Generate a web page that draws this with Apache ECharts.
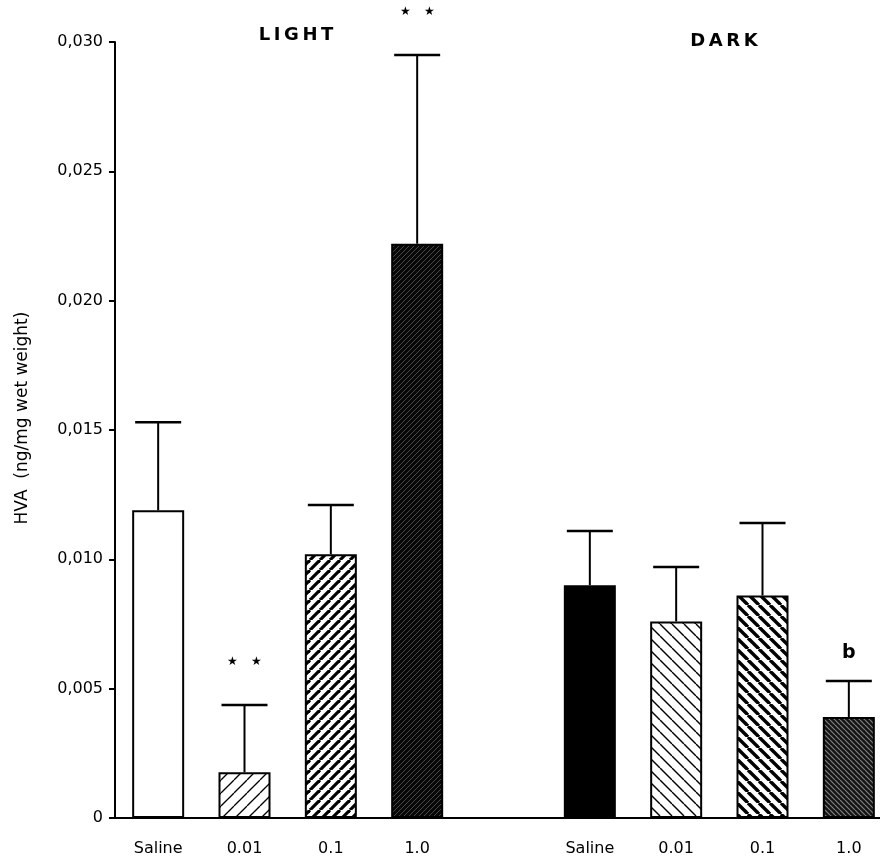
<!DOCTYPE html>
<html>
<head>
<meta charset="utf-8">
<script src="https://cdn.jsdelivr.net/npm/echarts@6/dist/echarts.min.js"></script>
<style>
    html, body { margin: 0; padding: 0; background: #fff; }
    #chart { width: 880px; height: 860px; }
</style>
</head>
<body>
<div id="chart"></div>
<script>
// slot 4 stays empty, it is the gap between LIGHT and DARK
var categories = ["Saline", "0.01", "0.1", "1.0", "", "Saline", "0.01", "0.1", "1.0"];
var means = [0.0119, 0.00177, 0.0102, 0.0222, null, 0.0090, 0.0076, 0.0086, 0.0039];
var errors = [0.0034, 0.0026, 0.0019, 0.0073, null, 0.0021, 0.0021, 0.0028, 0.0014];
var marks = ["", "**", "", "**", "", "", "", "", "b"];
var yTicks = [0, 0.005, 0.010, 0.015, 0.020, 0.025, 0.030];

var FONT = "DejaVu Sans";

// small canvas tile with diagonal lines, dir 1 = "/", -1 = "\"
function hatch(size, dir, lineW, bg, fg){
    var c = document.createElement("canvas");
    c.width = size;
    c.height = size;
    var ctx = c.getContext("2d");
    ctx.fillStyle = bg;
    ctx.fillRect(0, 0, size, size);
    ctx.strokeStyle = fg;
    ctx.lineWidth = lineW;
    for(var k = -size; k <= size; k += size){
        ctx.beginPath();
        if(dir == 1){
            ctx.moveTo(k, size);
            ctx.lineTo(k + size, 0);
        }else{
            ctx.moveTo(k, 0);
            ctx.lineTo(k + size, size);
        }
        ctx.stroke();
    }
    return {image: c, repeat: "repeat"};
}

var fills = [
    "#ffffff",
    hatch(13, 1, 1.3, "#ffffff", "#000000"),
    hatch(10, 1, 3.2, "#ffffff", "#000000"),
    hatch(5, 1, 1, "#080808", "#484848"),
    null,
    "#000000",
    hatch(12, -1, 1.4, "#ffffff", "#000000"),
    hatch(11, -1, 3.4, "#ffffff", "#000000"),
    hatch(5, -1, 1.2, "#141414", "#808080")
];

var barData = [];
var errData = [];
for(var i = 0; i < categories.length; i++){
    if(means[i] == null){
        barData.push("-");
        continue;
    }
    barData.push({
        value: means[i],
        itemStyle: {color: fills[i], borderColor: "#000", borderWidth: 2}
    });
    errData.push([i, means[i], errors[i], marks[i]]);
}

function renderError(params, api){
    var idx = api.value(0);
    var base = api.coord([idx, api.value(1)]);
    var top = api.coord([idx, api.value(1) + api.value(2)]);
    var half = 23;
    var children = [
        {type: "line", shape: {x1: base[0], y1: base[1], x2: top[0], y2: top[1]},
            style: {stroke: "#000", lineWidth: 2}},
        {type: "line", shape: {x1: top[0] - half, y1: top[1], x2: top[0] + half, y2: top[1]},
            style: {stroke: "#000", lineWidth: 2.5}}
    ];
    var mark = errData[params.dataIndex][3];
    if(mark == "**"){
        children.push({type: "text", x: top[0] - 12, y: top[1] - 43,
            style: {text: "★", fontSize: 12, fill: "#000", align: "center", verticalAlign: "middle"}});
        children.push({type: "text", x: top[0] + 12, y: top[1] - 43,
            style: {text: "★", fontSize: 12, fill: "#000", align: "center", verticalAlign: "middle"}});
    }else if(mark){
        children.push({type: "text", x: top[0], y: top[1] - 28,
            style: {text: mark, fontSize: 19, fontWeight: "bold", fontFamily: FONT, fill: "#000",
                align: "center", verticalAlign: "middle"}});
    }
    return {type: "group", children: children};
}

var myChart = echarts.init(document.getElementById("chart"), null, {renderer: "canvas"});
myChart.setOption({
    animation: false,
    backgroundColor: "#fff",
    textStyle: {fontFamily: FONT},
    title: [
        {text: "L\u2009I\u2009G\u2009H\u2009T", left: 291, top: 21, textAlign: "center",
            textStyle: {fontSize: 18, fontWeight: "bold", color: "#000", fontFamily: FONT}},
        {text: "D\u2009A\u2009R\u2009K", left: 719, top: 27, textAlign: "center",
            textStyle: {fontSize: 18, fontWeight: "bold", color: "#000", fontFamily: FONT}}
    ],
    graphic: [
        {type: "text", x: 23, y: 418, rotation: Math.PI / 2,
            style: {text: "HVA  (ng/mg wet weight)", fontSize: 17, fontFamily: FONT, fill: "#000",
                align: "center", verticalAlign: "middle"}}
    ],
    grid: {left: 115, top: 42, width: 777, height: 776, outerBoundsMode: "none"},
    xAxis: {
        type: "category",
        data: categories,
        boundaryGap: true,
        axisLine: {lineStyle: {color: "#000", width: 2}},
        axisTick: {show: false},
        axisLabel: {color: "#000", fontSize: 16, margin: 23, interval: 0}
    },
    yAxis: {
        type: "value",
        min: 0,
        max: 0.030,
        interval: 0.005,
        splitLine: {show: false},
        axisLine: {show: true, lineStyle: {color: "#000", width: 2}},
        axisTick: {show: true, length: 6, lineStyle: {color: "#000", width: 2}},
        axisLabel: {
            color: "#000",
            fontSize: 16,
            margin: 12,
            formatter: function(v){
                for(var j = 0; j < yTicks.length; j++){
                    if(Math.abs(v - yTicks[j]) < 1e-9){
                        return j == 0 ? "0" : yTicks[j].toFixed(3).replace(".", ",");
                    }
                }
                return "";
            }
        }
    },
    series: [
        {
            type: "bar",
            data: barData,
            barWidth: 52,
            z: 2
        },
        {
            type: "custom",
            data: errData,
            renderItem: renderError,
            z: 3
        }
    ]
});
</script>
</body>
</html>
